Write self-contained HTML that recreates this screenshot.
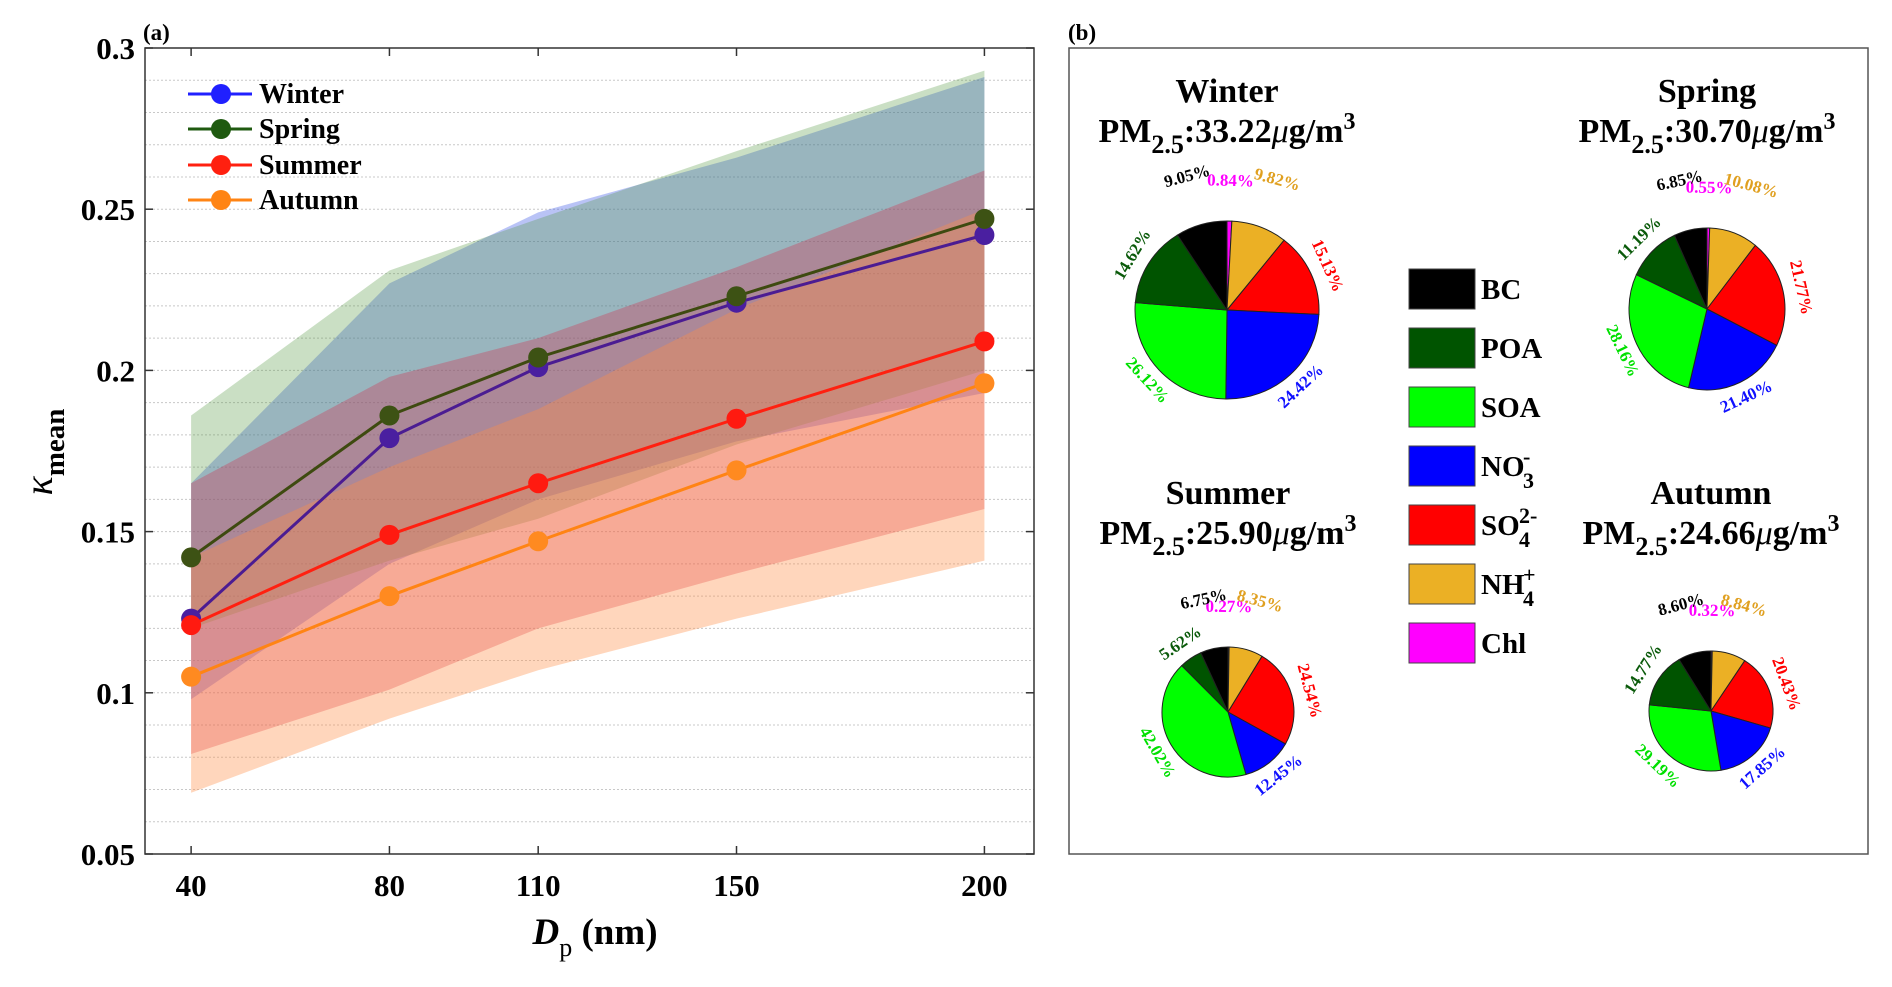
<!DOCTYPE html>
<html><head><meta charset="utf-8"><style>
html,body{margin:0;padding:0;background:#fff;}
svg{display:block;font-family:"Liberation Serif",serif;font-weight:bold;}
</style></head><body>
<svg id="svg" width="1892" height="987" viewBox="0 0 1892 987" xmlns="http://www.w3.org/2000/svg">
<g id="panelA"></g>
<g id="panelB"></g>
</svg>
<script>
// ---- Panel (a) data ----
const sizes = [40, 80, 110, 150, 200];
const seriesNames = ["Winter", "Spring", "Summer", "Autumn"];
const winterMean = [0.123, 0.179, 0.201, 0.221, 0.242];
const springMean = [0.142, 0.186, 0.204, 0.223, 0.247];
const summerMean = [0.121, 0.149, 0.165, 0.185, 0.209];
const autumnMean = [0.105, 0.130, 0.147, 0.169, 0.196];
const winterUpper = [0.165, 0.227, 0.249, 0.266, 0.291];
const winterLower = [0.098, 0.140, 0.160, 0.178, 0.193];
const springUpper = [0.186, 0.231, 0.247, 0.268, 0.293];
const springLower = [0.120, 0.141, 0.154, 0.177, 0.200];
const summerUpper = [0.165, 0.198, 0.210, 0.232, 0.262];
const summerLower = [0.081, 0.101, 0.120, 0.137, 0.157];
const autumnUpper = [0.142, 0.170, 0.188, 0.219, 0.250];
const autumnLower = [0.069, 0.092, 0.107, 0.123, 0.141];
const yTicks = [0.05, 0.1, 0.15, 0.2, 0.25, 0.3];
const yTickLabels = ["0.05", "0.1", "0.15", "0.2", "0.25", "0.3"];
const xTickLabels = ["40", "80", "110", "150", "200"];

// ---- Panel (b) data ----
const components = ["BC", "POA", "SOA", "NO3", "SO4", "NH4", "Chl"];
const seasons = ["Winter", "Spring", "Summer", "Autumn"];
const pmValues = ["33.22", "30.70", "25.90", "24.66"];
const winterPie = [9.05, 14.62, 26.12, 24.42, 15.13, 9.82, 0.84];
const springPie = [6.85, 11.19, 28.16, 21.40, 21.77, 10.08, 0.55];
const summerPie = [6.75, 5.62, 42.02, 12.45, 24.54, 8.35, 0.27];
const autumnPie = [8.60, 14.77, 29.19, 17.85, 20.43, 8.84, 0.32];

const NS = "http://www.w3.org/2000/svg";
function mk(parent, tag, attrs, text) {
  const e = document.createElementNS(NS, tag);
  for (const k in attrs) e.setAttribute(k, attrs[k]);
  if (text !== undefined) e.textContent = text;
  parent.appendChild(e);
  return e;
}

// ===== Panel A =====
const A = document.getElementById('panelA');
const L = 145, R = 1034, T = 48, B = 854;
const xMin = 30.7, xMax = 210;
const yMin = 0.05, yMax = 0.3;
const xs = v => L + (v - xMin) / (xMax - xMin) * (R - L);
const ys = v => B - (v - yMin) / (yMax - yMin) * (B - T);

for (let i = 1; i < 25; i++) {
  const v = yMin + i * 0.01;
  const g = mk(A, 'line', {x1: L, x2: R, y1: ys(v), y2: ys(v), stroke: '#c8c8c8', 'stroke-width': 1, 'stroke-dasharray': '2,2'});
  
  
}

const means = [winterMean, springMean, summerMean, autumnMean];
const uppers = [winterUpper, springUpper, summerUpper, autumnUpper];
const lowers = [winterLower, springLower, summerLower, autumnLower];
const lineColors = ['#4b1c92', '#3e4a10', '#ff2010', '#ff8414'];
const markerColors = ['#4a1fa0', '#3d5214', '#ff1a10', '#ff8a20'];
const fillColors = ['rgba(60,90,230,0.36)', 'rgba(80,150,60,0.30)', 'rgba(215,40,70,0.32)', 'rgba(255,140,70,0.36)'];

// bands
for (let s = 0; s < 4; s++) {
  const up = sizes.map((d, i) => xs(d) + ',' + ys(uppers[s][i]));
  const lo = sizes.map((d, i) => xs(d) + ',' + ys(lowers[s][i])).reverse();
  const pg = mk(A, 'polygon', {points: up.concat(lo).join(' '), fill: fillColors[s]});
  
  
}
// lines + markers
for (let s = 0; s < 4; s++) {
  const pts = sizes.map((d, i) => xs(d) + ',' + ys(means[s][i])).join(' ');
  const pl = mk(A, 'polyline', {points: pts, fill: 'none', stroke: lineColors[s], 'stroke-width': 3});
  
  
  sizes.forEach((d, i) => {
    const c = mk(A, 'circle', {cx: xs(d), cy: ys(means[s][i]), r: 10, fill: markerColors[s]});
    
    
  });
}

const box = mk(A, 'rect', {x: L, y: T, width: R - L, height: B - T, fill: 'none', stroke: '#333', 'stroke-width': 1.5});



yTicks.forEach((v, i) => {
  mk(A, 'line', {x1: L, x2: L + 8, y1: ys(v), y2: ys(v), stroke: '#333', 'stroke-width': 1.5});
  mk(A, 'line', {x1: R - 8, x2: R, y1: ys(v), y2: ys(v), stroke: '#333', 'stroke-width': 1.5});
  const t = mk(A, 'text', {x: L - 10, y: ys(v) + 11, 'text-anchor': 'end', 'font-size': 31}, yTickLabels[i]);
  
  
});
sizes.forEach((d, i) => {
  mk(A, 'line', {x1: xs(d), x2: xs(d), y1: B, y2: B - 8, stroke: '#333', 'stroke-width': 1.5});
  mk(A, 'line', {x1: xs(d), x2: xs(d), y1: T, y2: T + 8, stroke: '#333', 'stroke-width': 1.5});
  const t = mk(A, 'text', {x: xs(d), y: 896, 'text-anchor': 'middle', 'font-size': 31}, xTickLabels[i]);
  
  
});

const xt = mk(A, 'text', {x: 595, y: 944, 'text-anchor': 'middle', 'font-size': 37});


mk(xt, 'tspan', {'font-style': 'italic'}, 'D');
mk(xt, 'tspan', {dy: 12, 'font-size': 26, 'font-weight': 'normal'}, 'p');
mk(xt, 'tspan', {dy: -12}, ' (nm)');

const yt = mk(A, 'text', {transform: 'translate(52,452) rotate(-90)', 'text-anchor': 'middle', 'font-size': 40});


mk(yt, 'tspan', {'font-style': 'italic', 'font-weight': 'normal'}, 'κ');
mk(yt, 'tspan', {dy: 12, 'font-size': 29}, 'mean');

const la = mk(A, 'text', {x: 143, y: 40, 'font-size': 23}, '(a)');



const legY = [94, 129, 165, 200];
const legColors = ['#2020ff', '#1f5a10', '#ff2010', '#ff8414'];
seriesNames.forEach((n, s) => {
  const g = mk(A, 'g', {});
  
  
  mk(g, 'line', {x1: 188, x2: 252, y1: legY[s], y2: legY[s], stroke: legColors[s], 'stroke-width': 3});
  mk(g, 'circle', {cx: 221, cy: legY[s], r: 10, fill: legColors[s]});
  mk(g, 'text', {x: 259, y: legY[s] + 9, 'font-size': 28}, n);
});

// ===== Panel B =====
const P = document.getElementById('panelB');
const lb = mk(P, 'text', {x: 1068, y: 40, 'font-size': 23}, '(b)');


const fb = mk(P, 'rect', {x: 1069, y: 48, width: 799, height: 806, fill: 'none', stroke: '#555', 'stroke-width': 1.5});



const compColors = ['#000000', '#005400', '#00ff00', '#0000ff', '#ff0000', '#ebb025', '#ff00ff'];
const labelColors = ['#000000', '#0a5a0a', '#00e000', '#1010ff', '#ff0000', '#e0a020', '#ff00ff'];
const pieData = [winterPie, springPie, summerPie, autumnPie];
const pieGeo = [
  {cx: 1227, cy: 310, rx: 92, ry: 89, tx: 1227, ty1: 102, ty2: 142},
  {cx: 1707, cy: 309, rx: 78, ry: 81, tx: 1707, ty1: 102, ty2: 142},
  {cx: 1228, cy: 712, rx: 66, ry: 65, tx: 1228, ty1: 504, ty2: 544},
  {cx: 1711, cy: 711, rx: 62, ry: 60, tx: 1711, ty1: 504, ty2: 544}
];
const extraOff = [32, 0, 0, 0, 0, 32, 22];

pieData.forEach((vals, p) => {
  const G = pieGeo[p];
  const g = mk(P, 'g', {});
  
  
  const t1 = mk(g, 'text', {x: G.tx, y: G.ty1, 'text-anchor': 'middle', 'font-size': 34}, seasons[p]);
  
  
  const t2 = mk(g, 'text', {x: G.tx, y: G.ty2, 'text-anchor': 'middle', 'font-size': 34});
  
  
  mk(t2, 'tspan', {}, 'PM');
  mk(t2, 'tspan', {dy: 11, 'font-size': 26}, '2.5');
  mk(t2, 'tspan', {dy: -11}, ':' + pmValues[p]);
  mk(t2, 'tspan', {'font-style': 'italic', 'font-weight': 'normal'}, 'μ');
  mk(t2, 'tspan', {}, 'g/m');
  mk(t2, 'tspan', {dy: -13, 'font-size': 24}, '3');

  const total = vals.reduce((a, b) => a + b, 0);
  const order = [6, 5, 4, 3, 2, 1, 0];
  let ang = 0;
  order.forEach(ci => {
    const sweep = vals[ci] / total * 360;
    const a0 = ang, a1 = ang + sweep;
    const pt = a => [G.cx + G.rx * Math.sin(a * Math.PI / 180), G.cy - G.ry * Math.cos(a * Math.PI / 180)];
    const p0 = pt(a0), p1 = pt(a1);
    const d = `M${G.cx},${G.cy} L${p0[0]},${p0[1]} A${G.rx},${G.ry} 0 ${sweep > 180 ? 1 : 0} 1 ${p1[0]},${p1[1]} Z`;
    const sl = mk(g, 'path', {d: d, fill: compColors[ci], stroke: '#222', 'stroke-width': 1});
    
    
    const mid = (a0 + a1) / 2;
    const off = 17 + extraOff[ci];
    const lx = G.cx + (G.rx + off) * Math.sin(mid * Math.PI / 180);
    const ly = G.cy - (G.ry + off) * Math.cos(mid * Math.PI / 180);
    let rot = mid;
    if (mid > 90 && mid < 270) rot = mid - 180;
    if (ci === 0 || ci === 6 || ci === 5) rot = Math.max(-15, Math.min(15, rot > 180 ? rot - 360 : rot));
    const lt = mk(g, 'text', {x: lx, y: ly, 'text-anchor': 'middle', 'dominant-baseline': 'middle', 'font-size': 17, fill: labelColors[ci], transform: `rotate(${rot} ${lx} ${ly})`}, vals[ci].toFixed(2) + '%');
    
    
    ang = a1;
  });
});

const legendLabels = [['BC'], ['POA'], ['SOA'], ['NO', '3', '-'], ['SO', '4', '2-'], ['NH', '4', '+'], ['Chl']];
components.forEach((c, i) => {
  const y = 269 + i * 59;
  const g = mk(P, 'g', {});
  
  
  mk(g, 'rect', {x: 1409, y: y, width: 66, height: 40, fill: compColors[i], stroke: '#444', 'stroke-width': 1});
  const lab = legendLabels[i];
  const t = mk(g, 'text', {x: 1481, y: y + 30, 'font-size': 29});
  mk(t, 'tspan', {}, lab[0]);
  if (lab.length > 1) {
    const bx = 1481 + (lab[0] === 'NO' ? 42 : (lab[0] === 'SO' ? 38 : 42));
    mk(g, 'text', {x: bx, y: y + 42, 'font-size': 22}, lab[1]);
    mk(g, 'text', {x: bx, y: y + 18, 'font-size': 22}, lab[2]);
  }
});
</script>
</body></html>
